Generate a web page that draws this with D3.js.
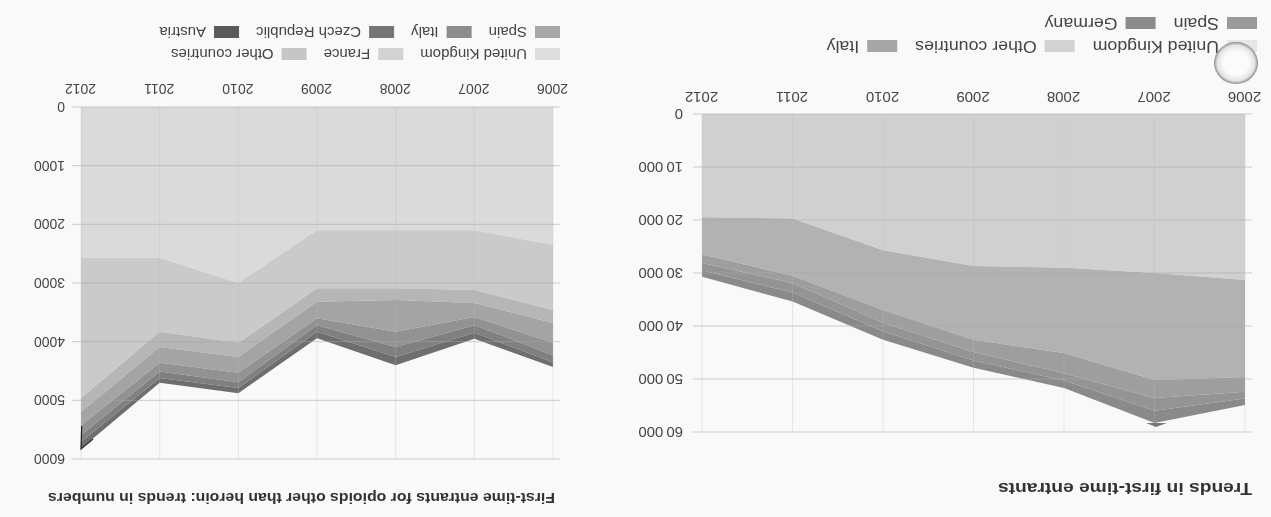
<!DOCTYPE html>
<html><head><meta charset="utf-8">
<script src="https://cdn.jsdelivr.net/npm/d3@7"></script>
<style>html,body{margin:0;padding:0;background:#fff;overflow:hidden}svg{display:block}text{font-family:"Liberation Sans",Arial,sans-serif;fill:#444}</style>
</head><body><svg id="c" width="1271" height="517"></svg>
<script>
const years = [2006,2007,2008,2009,2010,2011,2012];

const titleA = "Trends in first-time entrants";
const seriesNamesA = ["United Kingdom","Other countries","Italy","Spain","Germany"];
const ukA = [31300,30000,29000,28700,25700,19700,19500];
const otherA = [18300,20200,16100,13900,11300,10800,7000];
const italyA = [2800,3400,3800,2300,2400,1400,1600];
const spainA = [1300,2400,1400,1600,1600,1800,1400];
const germanyA = [1200,2300,1400,1400,1600,1700,1200];
const ticksA = [0,10000,20000,30000,40000,50000,60000];

const titleB = "First-time entrants for opioids other than heroin: trends in numbers";
const seriesNamesB = ["United Kingdom","France","Other countries","Spain","Italy","Czech Republic","Austria"];
const ukB = [2350,2100,2100,2100,3000,2570,2570];
const franceB = [1110,1020,990,990,1020,1260,2390];
const otherB = [220,220,200,230,240,260,240];
const spainB = [340,240,540,280,270,270,230];
const italyB = [210,140,260,120,160,150,160];
const czechB = [120,130,170,110,100,110,120];
const austriaB = [80,100,140,110,90,80,110];
const ticksB = [0,1000,2000,3000,4000,5000,6000];

const coloursA = ["#d0d0d0","#b2b2b2","#9e9e9e","#949494","#8a8a8a"];
const coloursB = ["#dadada","#cacaca","#b6b6b6","#a4a4a4","#929292","#808080","#6e6e6e"];
const swatchA = ["#e6e6e6","#d2d2d2","#a6a6a6","#9a9a9a","#8a8a8a"];
const swatchB = ["#dedede","#d2d2d2","#c6c6c6","#a8a8a8","#8c8c8c","#767676","#5a5a5a"];

const thin = d3.formatLocale({decimal:".",thousands:"\u2009",grouping:[3],currency:["",""]}).format(",d");

const svg = d3.select("#c");
const defs = svg.append("defs");
defs.append("filter").attr("id","soft").attr("x","-2%").attr("y","-2%").attr("width","104%").attr("height","104%")
  .append("feGaussianBlur").attr("stdDeviation",0.6);
const rg = defs.append("radialGradient").attr("id","disc");
rg.append("stop").attr("offset","0.55").attr("stop-color","#fbfbfb");
rg.append("stop").attr("offset","0.85").attr("stop-color","#e4e4e4");
rg.append("stop").attr("offset","1").attr("stop-color","#8c8c8c");

svg.append("rect").attr("width",1271).attr("height",517).attr("fill","#f9f9f9");
// The whole page is photographed upside down
const root = svg.append("g").attr("filter","url(#soft)").attr("transform","rotate(180 635.5 258.5)");

function panel(o){
  const g = root.append("g");
  const x = d3.scaleLinear().domain([years[0],years[years.length-1]]).range(o.xr);
  const y = d3.scaleLinear().domain([0,o.ticks[o.ticks.length-1]]).range(o.yr);
  const rows = years.map((yr,i)=>{const r={year:yr};o.names.forEach((n,k)=>r[n]=o.series[k][i]);return r;});
  const stacked = d3.stack().keys(o.names)(rows);
  const area = d3.area().x(d=>x(d.data.year)).y0(d=>y(d[0])).y1(d=>y(d[1]));
  g.selectAll("path.a").data(stacked).join("path").attr("class","a").attr("d",area)
    .attr("fill",(d,i)=>o.colours[i]);
  g.append("g").selectAll("line").data(o.ticks).join("line")
    .attr("x1",o.xr[0]-7).attr("x2",o.xr[1]+9).attr("y1",d=>y(d)).attr("y2",d=>y(d))
    .attr("stroke","#a8a8a8").attr("stroke-opacity",0.55);
  g.append("g").selectAll("line").data(years).join("line")
    .attr("x1",d=>x(d)).attr("x2",d=>x(d)).attr("y1",o.yr[0]).attr("y2",o.yr[1])
    .attr("stroke","#b8b8b8").attr("stroke-opacity",0.3);
  const ax = g.append("g").attr("transform",`translate(0,${o.yr[0]})`)
    .call(d3.axisBottom(x).tickValues(years).tickFormat(d3.format("d")).tickSize(0).tickPadding(o.xPad));
  ax.select(".domain").remove();
  ax.selectAll("text").attr("font-size",o.fs).attr("text-anchor","middle");
  const ay = g.append("g").attr("transform",`translate(${o.xr[1]},0)`)
    .call(d3.axisRight(y).tickValues(o.ticks).tickFormat(o.yFormat).tickSize(0).tickPadding(o.yPad));
  ay.select(".domain").remove();
  ay.selectAll("text").attr("font-size",o.yFs);
  o.legendRows.forEach((row,ri)=>{
    let cx = o.legendX;
    row.forEach(idx=>{
      g.append("rect").attr("x",cx).attr("y",o.legendY[ri]-6).attr("width",o.swW).attr("height",12).attr("fill",o.swatch[idx]);
      cx += o.swW + o.swGap;
      const t = g.append("text").attr("x",cx).attr("y",o.legendY[ri]+4.5).attr("font-size",o.legendFs).text(o.names[idx]);
      const w = t.node().getComputedTextLength()*o.legendStretch;
      t.attr("textLength",w).attr("lengthAdjust","spacingAndGlyphs");
      cx += w + o.itemGap;
    });
  });
  g.append("text").attr("x",o.titleX).attr("y",o.titleY).attr("font-size",o.titleFs).attr("font-weight","bold")
    .style("fill","#333").attr("textLength",o.titleW).attr("lengthAdjust","spacingAndGlyphs").text(o.title);
  return {x,y,g};
}

panel({names:seriesNamesA,series:[ukA,otherA,italyA,spainA,germanyA],ticks:ticksA,colours:coloursA,swatch:swatchA,
  xr:[26,569],yr:[403,85],xPad:11,yPad:19,fs:15,yFs:15,yFormat:thin,legendRows:[[0,1,2],[3,4]],legendX:14,legendY:[471,494],
  swW:30,swGap:8,itemGap:18,legendFs:16,legendStretch:1.11,title:titleA,titleX:19,titleY:34,titleFs:16,titleW:254});

panel({names:seriesNamesB,series:[ukB,franceB,otherB,spainB,italyB,czechB,austriaB],ticks:ticksB,colours:coloursB,swatch:swatchB,
  xr:[718,1190],yr:[410,58],xPad:13,yPad:16,fs:14,yFs:14,yFormat:d3.format("d"),legendRows:[[0,1,2],[3,4,5,6]],legendX:711,legendY:[463,485],
  swW:25,swGap:8,itemGap:17,legendFs:15,legendStretch:1,title:titleB,titleX:716,titleY:24,titleFs:14.5,titleW:507});

// round sticker and pen marks on the scan
root.append("ellipse").attr("cx",1271-1236).attr("cy",517-63).attr("rx",22).attr("ry",21)
  .attr("fill","url(#disc)");
const pen = d3.line();
root.append("path").attr("d",pen([[1271-81.7,517-426],[1271-81,517-449],[1271-93,517-439]]))
  .attr("fill","none").attr("stroke","#222").attr("stroke-width",1.2);
root.append("path").attr("d",pen([[1271-1146,517-423],[1271-1156,517-427],[1271-1167,517-423]]))
  .attr("fill","#777").attr("stroke","none");
</script></body></html>
